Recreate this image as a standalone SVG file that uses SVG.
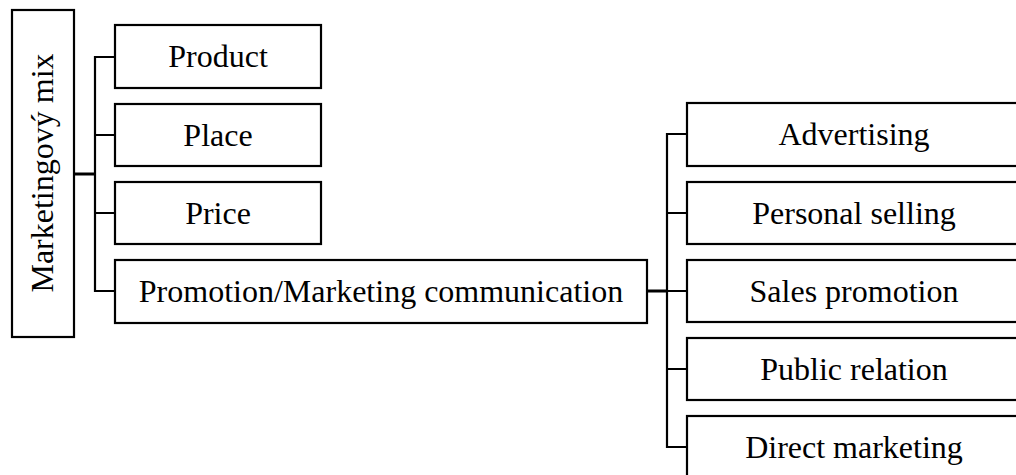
<svg xmlns="http://www.w3.org/2000/svg" width="1016" height="475" viewBox="0 0 1016 475">
<style>
.box{fill:#fff;stroke:#000;stroke-width:2.2}
.t{font-family:"Liberation Serif","Times New Roman",serif;font-size:32px;fill:#000;text-anchor:middle}
.c{fill:none;stroke:#000;stroke-width:2.2}
.ct{fill:none;stroke:#000;stroke-width:3}
</style>
<rect width="1016" height="475" fill="#fff"/>
<g id="connectors">
<path class="ct" d="M74 174H95"/>
<path class="c" d="M115 57H95V291H115M95 135H115M95 213H115"/>
<path class="ct" d="M647 291H667"/>
<path class="c" d="M687 134H667V447H687M667 213H687M667 291H687M667 369H687"/>
</g>
<g id="marketing-mix"><rect class="box" x="12" y="10" width="62" height="327"/><text class="t" transform="translate(53 173) rotate(-90)">Marketingový mix</text></g>
<g id="product"><rect class="box" x="115" y="25" width="206" height="63"/><text class="t" x="218" y="67">Product</text></g>
<g id="place"><rect class="box" x="115" y="104" width="206" height="62"/><text class="t" x="218" y="145.5">Place</text></g>
<g id="price"><rect class="box" x="115" y="182" width="206" height="62"/><text class="t" x="218" y="223.5">Price</text></g>
<g id="promotion"><rect class="box" x="115" y="260" width="532" height="63"/><text class="t" x="381" y="302">Promotion/Marketing communication</text></g>
<g id="advertising"><rect class="box" x="687" y="103" width="340" height="63"/><text class="t" x="854" y="145">Advertising</text></g>
<g id="personal-selling"><rect class="box" x="687" y="182" width="340" height="62"/><text class="t" x="854" y="223.5">Personal selling</text></g>
<g id="sales-promotion"><rect class="box" x="687" y="260" width="340" height="62"/><text class="t" x="854" y="301.5">Sales promotion</text></g>
<g id="public-relation"><rect class="box" x="687" y="338" width="340" height="62"/><text class="t" x="854" y="379.5">Public relation</text></g>
<g id="direct-marketing"><rect class="box" x="687" y="416" width="340" height="63"/><text class="t" x="854" y="458">Direct marketing</text></g>
</svg>
